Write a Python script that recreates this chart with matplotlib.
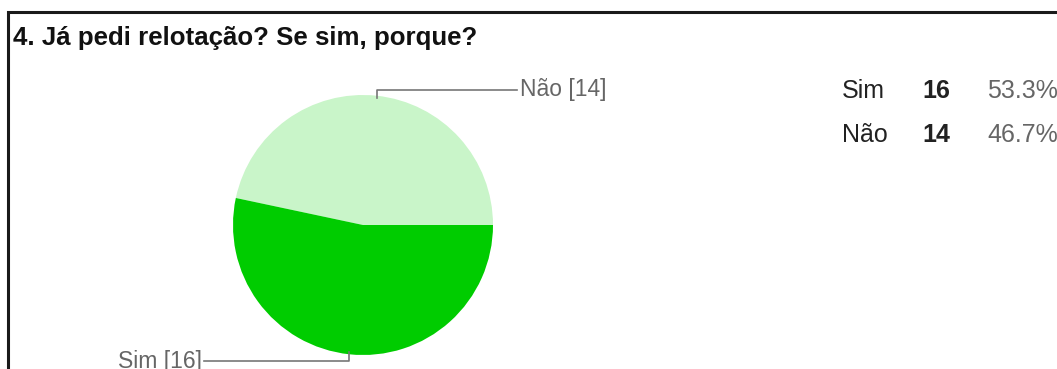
import numpy as np
import matplotlib.pyplot as plt

plt.rcParams['font.family'] = ['Liberation Sans', 'DejaVu Sans']

# dados
categorias = ['Não', 'Sim']
valores = [14, 16]
tabela_ordem = ['Sim', 'Não']
titulo = '4. Já pedi relotação? Se sim, porque?'
cores = ['#c9f5c9', '#00cc00']

W, H = 1057, 369
fig = plt.figure(figsize=(W / 100, H / 100), dpi=100)
ax = fig.add_axes([0, 0, 1, 1])

# moldura (só topo e lado esquerdo visíveis)
ax.plot([8, 8, W + 5], [-5, H - 12, H - 12], color='#1a1a1a', lw=2.2,
        solid_joinstyle='miter')

ax.text(13, H - 38, titulo, fontsize=18.6, fontweight='bold', color='#111',
        va='center', ha='left')

# pizza
cx, cy, r = 363, H - 225, 130
wedges, _ = ax.pie(valores, colors=cores, startangle=0, counterclock=True,
                   center=(cx, cy), radius=r, frame=True,
                   wedgeprops=dict(linewidth=0))
ax.set_xlim(0, W)
ax.set_ylim(0, H)
ax.set_aspect('equal')
ax.axis('off')

# rótulos com linhas guia
for w, cat, v in zip(wedges, categorias, valores):
    ang = np.deg2rad((w.theta1 + w.theta2) / 2)
    x0 = cx + r * np.cos(ang)
    y0 = cy + r * np.sin(ang)
    if np.sin(ang) > 0:
        y1 = y0 + 6
        x1 = x0 + 140
        ax.plot([x0, x0, x1], [y0 - 2, y1, y1], color='#777', lw=1.2)
        ax.text(x1 + 3, y1, f'{cat} [{v}]', fontsize=16.5, color='#666',
                va='center', ha='left')
    else:
        y1 = y0 - 7
        x1 = x0 - 145
        ax.plot([x0, x0, x1], [y0 + 2, y1, y1], color='#777', lw=1.2)
        ax.text(x1 - 2, y1, f'{cat} [{v}]', fontsize=16.5, color='#666',
                va='center', ha='right')

# tabela
total = sum(valores)
for i, cat in enumerate(tabela_ordem):
    v = valores[categorias.index(cat)]
    y = H - 91 - i * 44
    ax.text(842, y, cat, fontsize=18, color='#222', va='center', ha='left')
    ax.text(922, y, str(v), fontsize=18, fontweight='bold', color='#222',
            va='center', ha='left')
    ax.text(987, y, f'{100 * v / total:.1f}%', fontsize=18, color='#666',
            va='center', ha='left')

fig.savefig('out.png', dpi=100)
